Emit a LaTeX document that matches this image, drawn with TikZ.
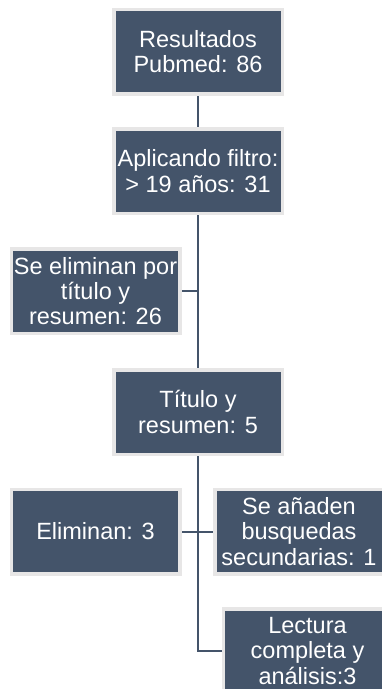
\documentclass[tikz,border=0pt]{standalone}
\usepackage{fontspec}
\setmainfont{Liberation Sans}
\definecolor{boxfill}{HTML}{44546A}
\definecolor{boxrim}{HTML}{E7E6E6}
\pgfdeclarelayer{bg}
\pgfsetlayers{bg,main}
\begin{document}
\begin{tikzpicture}[x=1pt,y=-1pt,
  stepbox/.style={rectangle, fill=boxfill, draw=boxrim, line width=3.5pt,
    minimum width=168.5pt, minimum height=84.5pt, inner sep=0pt,
    text=white, align=center, font=\fontsize{23.5}{25.3}\selectfont},
  link/.style={draw=boxfill, line width=2pt}]
\useasboundingbox (0,0) rectangle (382,689);
\clip (0,0) rectangle (382,689);
\node[stepbox] (a) at (198,51.5) {Resultados\\Pubmed: 86};
\node[stepbox] (b) at (198,171) {Aplicando filtro:\\> 19 años: 31};
\node[stepbox] (c) at (95.5,291) {Se eliminan por\\título y\\resumen: 26};
\node[stepbox] (d) at (198,412) {Título y\\resumen: 5};
\node[stepbox] (e) at (95.5,531.5) {Eliminan: 3};
\node[stepbox] (f) at (299,531.5) {Se añaden\\busquedas\\secundarias: 1};
\node[stepbox] (g) at (307.5,651) {Lectura\\completa y\\análisis:3};
\begin{pgfonlayer}{bg}
\coordinate (j1) at (b.south |- c.east);
\draw[link] (a.south) -- (b.north);
\draw[link] (b.south) -- (d.north);
\draw[link] (c.east) -- (j1);
\draw[link] (d.south) |- (g.west);
\draw[link] (e.east) -- (f.west);
\end{pgfonlayer}
\end{tikzpicture}
\end{document}
